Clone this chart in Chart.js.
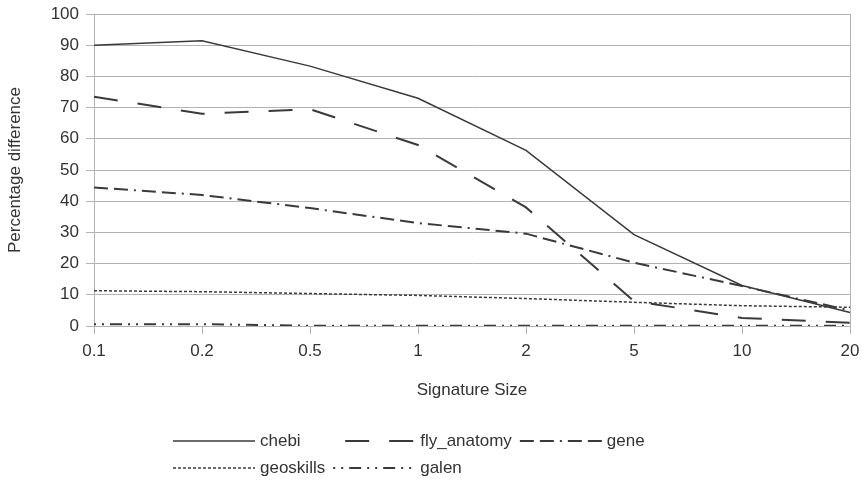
<!DOCTYPE html>
<html>
<head>
<meta charset="utf-8">
<script src="https://cdn.jsdelivr.net/npm/chart.js@4/dist/chart.umd.min.js"></script>
<style>
  body { margin: 0; background: #fff; }
  #wrap { width: 862px; height: 486px; }
</style>
</head>
<body>
<div id="wrap"><canvas id="lineChart"></canvas></div>
<script>
const sizes = ["0.1", "0.2", "0.5", "1", "2", "5", "10", "20"];
const yTicks = [0, 10, 20, 30, 40, 50, 60, 70, 80, 90, 100];

const chebi = [90, 91.4, 83.3, 73, 56.3, 29.3, 13, 4.3];
const flyAnatomy = [73.5, 68, 69.5, 58, 38, 8, 2.6, 1];
const gene = [44.4, 42, 37.8, 33, 29.6, 20.3, 12.8, 5];
const geoskills = [11.3, 11, 10.4, 9.8, 8.8, 7.6, 6.5, 6];
const galen = [0.6, 0.6, 0.1, 0.1, 0.1, 0.1, 0.1, 0.1];

const FONT = "'Liberation Sans', Arial, sans-serif";
const TEXT = "#333333";
const GRID = "#b3b3b3";
const LINE = "#3a3a3a";

const ctx = document.getElementById("lineChart");

// legend drawn by hand: LibreOffice style, fixed columns in two rows
const columnLegend = {
  id: "columnLegend",
  afterDraw(chart) {
    const c = chart.ctx;
    const sets = chart.data.datasets;
    const rows = [[0, 1, 2], [3, 4]];
    const lineLen = 82;
    const gap = 5;
    const startX = 173;
    const rowY = [441, 468];
    c.save();
    c.font = "17px " + FONT;
    c.textBaseline = "middle";
    // column widths from the widest label in each column
    const colW = [0, 0, 0];
    rows.forEach((row) => {
      row.forEach((di, col) => {
        const w = c.measureText(sets[di].label).width;
        colW[col] = Math.max(colW[col], w);
      });
    });
    rows.forEach((row, r) => {
      let x = startX;
      row.forEach((di, col) => {
        const ds = sets[di];
        const y = rowY[r];
        c.strokeStyle = ds.borderColor;
        c.lineWidth = ds.borderWidth;
        c.setLineDash(ds.borderDash || []);
        c.lineDashOffset = ds.legendDashOffset || 0;
        c.beginPath();
        c.moveTo(x, y);
        c.lineTo(x + lineLen, y);
        c.stroke();
        c.setLineDash([]);
        c.fillStyle = TEXT;
        c.fillText(ds.label, x + lineLen + gap, y);
        x += lineLen + gap + colW[col] + 8;
      });
    });
    c.restore();
  },
};

const config = {
  type: "line",
  data: {
    labels: sizes,
    datasets: [
      { label: "chebi", data: chebi, borderDash: [], borderWidth: 1.5 },
      { label: "fly_anatomy", data: flyAnatomy, borderDash: [24, 20], borderWidth: 2, legendDashOffset: 32 },
      { label: "gene", data: gene, borderDash: [14, 6, 14, 6, 2, 6], borderWidth: 2 },
      { label: "geoskills", data: geoskills, borderDash: [3, 2], borderWidth: 1.5 },
      { label: "galen", data: galen, borderDash: [2, 6, 2, 6, 12, 6], borderWidth: 2 },
    ].map((ds) => ({
      ...ds,
      borderColor: LINE,
      backgroundColor: LINE,
      pointRadius: 0,
      tension: 0,
      fill: false,
    })),
  },
  options: {
    responsive: true,
    maintainAspectRatio: false,
    animation: false,
    layout: {
      padding: { left: 0, right: 12, top: 14, bottom: 81 },
    },
    plugins: {
      legend: { display: false },
      tooltip: { enabled: false },
    },
    scales: {
      x: {
        offset: false,
        afterFit: (scale) => {
          scale.height = 79;
          scale.paddingLeft = 0;
          scale.paddingRight = 0;
        },
        grid: {
          color: (c) =>
            c.index === 0 || c.index === sizes.length - 1 ? GRID : "transparent",
          tickColor: GRID,
          tickLength: 8,
          lineWidth: 1,
        },
        border: { color: GRID },
        ticks: {
          color: TEXT,
          font: { family: FONT, size: 17 },
          padding: 7,
          maxRotation: 0,
        },
        title: {
          display: true,
          text: "Signature Size",
          color: TEXT,
          font: { family: FONT, size: 17 },
          padding: { top: 4, bottom: 4 },
        },
      },
      y: {
        min: 0,
        max: 100,
        afterFit: (scale) => {
          scale.width = 94;
          scale.paddingTop = 0;
          scale.paddingBottom = 0;
        },
        afterBuildTicks: (scale) => {
          scale.ticks = yTicks.map((v) => ({ value: v }));
        },
        grid: {
          color: GRID,
          tickColor: GRID,
          tickLength: 8,
        },
        border: { color: GRID },
        ticks: {
          color: TEXT,
          font: { family: FONT, size: 17 },
          padding: 7,
        },
        title: {
          display: true,
          text: "Percentage difference",
          color: TEXT,
          font: { family: FONT, size: 17 },
          padding: { top: 5, bottom: 0 },
        },
      },
    },
  },
  plugins: [columnLegend],
};

new Chart(ctx, config);
</script>
</body>
</html>
